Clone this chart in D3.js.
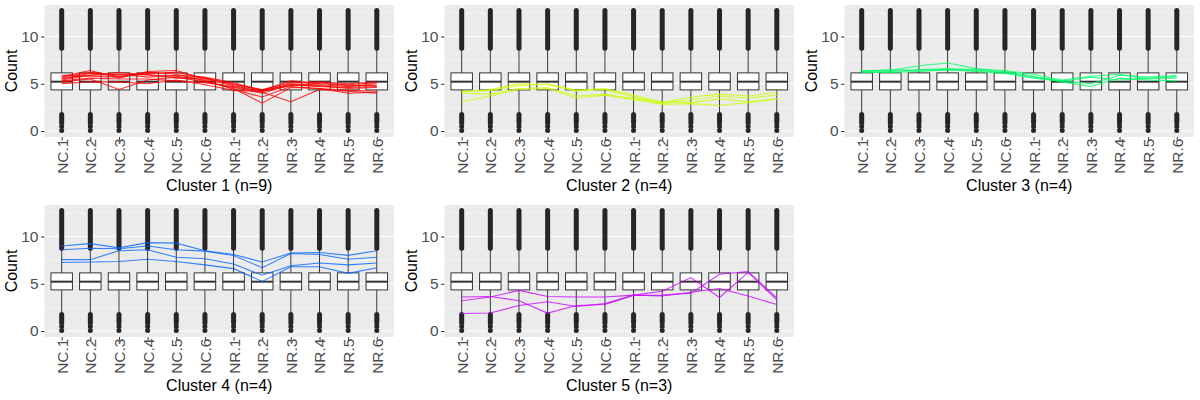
<!DOCTYPE html>
<html>
<head>
<meta charset="utf-8">
<script src="https://cdn.jsdelivr.net/npm/d3@7"></script>
<style>
  body { margin: 0; background: #fff; }
  text { font-family: "Liberation Sans", Arial, Helvetica, sans-serif; }
</style>
</head>
<body>
<svg id="chart" width="1200" height="400"></svg>
<script>
// categories and panel titles
const categories = ["NC.1", "NC.2", "NC.3", "NC.4", "NC.5", "NC.6",
                    "NR.1", "NR.2", "NR.3", "NR.4", "NR.5", "NR.6"];
const clusterTitles = ["Cluster 1 (n=9)", "Cluster 2 (n=4)", "Cluster 3 (n=4)",
                       "Cluster 4 (n=4)", "Cluster 5 (n=3)"];
const clusterColors = ["#FF0000", "#CCFF00", "#00FF66", "#0066FF", "#CC00FF"];
const yTicks = [0, 5, 10];

// boxplot of all genes (same in each column): whisker low, q1, median, q3, whisker high
const boxFive = [1.85, 4.35, 5.22, 6.15, 8.65];
const outlierHigh = [8.75, 12.75];
const outlierLow = [0.85, 1.75];
const outlierLowPoints = [0.48, 0.05];

// cluster members, one array per gene
const cluster1 = [
  [5.8, 6.4, 5.6, 6.3, 6.4, 5.5, 4.8, 4.2, 5.0, 4.9, 4.7, 5.0],
  [5.5, 6.1, 5.9, 6.1, 6.2, 5.6, 5.0, 4.3, 5.3, 5.0, 4.9, 5.1],
  [5.2, 5.5, 4.4, 5.4, 5.7, 5.2, 4.6, 4.0, 4.9, 4.8, 4.5, 4.6],
  [5.6, 5.9, 6.2, 5.9, 5.8, 5.4, 4.4, 3.6, 4.7, 4.5, 4.3, 4.2],
  [5.9, 5.8, 5.7, 6.2, 6.0, 5.3, 4.5, 2.95, 4.6, 4.5, 4.0, 4.1],
  [5.3, 5.6, 5.5, 5.5, 5.3, 5.1, 4.7, 4.1, 3.1, 4.4, 4.2, 4.0],
  [5.0, 5.2, 5.2, 5.0, 5.4, 4.9, 4.3, 4.2, 4.8, 5.1, 4.8, 4.8],
  [5.7, 6.2, 5.8, 6.0, 5.6, 5.6, 4.9, 4.4, 5.1, 5.2, 5.0, 5.2],
  [5.4, 5.9, 6.0, 5.7, 5.9, 5.7, 5.1, 4.3, 4.9, 4.7, 4.6, 4.7]
];
const cluster2 = [
  [4.2, 4.3, 4.8, 5.0, 4.3, 4.5, 3.8, 3.0, 3.6, 3.9, 3.7, 4.1],
  [4.1, 4.4, 5.0, 4.9, 4.2, 4.4, 3.6, 2.9, 3.3, 3.7, 3.5, 3.8],
  [4.0, 3.9, 4.5, 4.6, 3.7, 3.9, 3.4, 3.1, 3.0, 3.4, 3.1, 3.4],
  [3.1, 3.7, 4.4, 4.5, 3.5, 3.8, 3.3, 2.8, 2.9, 2.7, 3.0, 3.4]
];
const cluster3 = [
  [6.3, 6.4, 6.9, 7.2, 6.6, 6.3, 5.8, 5.3, 5.0, 5.9, 5.7, 5.9],
  [6.4, 6.3, 6.5, 6.6, 6.5, 6.4, 6.0, 5.4, 5.8, 6.0, 5.5, 5.8],
  [6.3, 6.5, 6.4, 6.5, 6.4, 6.2, 5.7, 5.2, 4.7, 5.6, 5.4, 5.3],
  [6.2, 6.2, 6.3, 6.5, 6.3, 6.1, 5.6, 5.3, 5.7, 5.4, 5.6, 5.6]
];
const cluster4 = [
  [9.0, 9.25, 8.8, 9.35, 9.3, 8.5, 8.1, 7.3, 8.25, 8.3, 8.0, 8.5],
  [8.6, 8.75, 8.7, 9.0, 8.6, 8.45, 8.0, 6.7, 8.2, 8.1, 7.6, 7.8],
  [7.55, 7.55, 8.5, 8.6, 7.8, 7.65, 7.1, 5.9, 6.9, 7.2, 7.0, 7.2],
  [7.25, 7.3, 7.35, 7.6, 7.35, 7.0, 6.6, 5.25, 6.8, 6.8, 6.1, 6.7]
];
const cluster5 = [
  [3.2, 3.6, 4.3, 3.65, 3.6, 3.6, 3.8, 4.2, 5.65, 3.55, 6.2, 3.3],
  [3.6, 3.65, 3.2, 1.9, 2.7, 2.8, 3.75, 3.8, 4.0, 6.0, 6.3, 3.5],
  [1.85, 1.9, 2.7, 3.1, 2.6, 2.9, 3.8, 3.7, 4.1, 4.5, 3.7, 2.8]
];
const clusterSeries = [cluster1, cluster2, cluster3, cluster4, cluster5];

const svg = d3.select("#chart");

function drawPanel(i) {
    const col = i % 3,
          row = Math.floor(i / 3),
          left = col * 400 + 44.5,
          right = col * 400 + 394,
          top = row * 200 + 5,
          bottom = row * 200 + 137;

    const x = d3.scalePoint().domain(categories).range([left, right]).padding(0.6),
          y = d3.scaleLinear().domain([-0.635, 13.335]).range([bottom, top]),
          boxW = x.step() * 0.75;

    const g = svg.append("g");

    // panel background + grid
    g.append("rect")
     .attr("x", left).attr("y", top)
     .attr("width", right - left).attr("height", bottom - top)
     .attr("fill", "#EBEBEB");

    g.selectAll(".minor")
     .data([2.5, 7.5, 12.5])
     .join("line")
     .attr("x1", left).attr("x2", right)
     .attr("y1", d => y(d)).attr("y2", d => y(d))
     .attr("stroke", "#fff").attr("stroke-width", 0.5);

    g.selectAll(".major")
     .data(yTicks)
     .join("line")
     .attr("x1", left).attr("x2", right)
     .attr("y1", d => y(d)).attr("y2", d => y(d))
     .attr("stroke", "#fff").attr("stroke-width", 1.1);

    g.selectAll(".vgrid")
     .data(categories)
     .join("line")
     .attr("x1", d => x(d)).attr("x2", d => x(d))
     .attr("y1", top).attr("y2", bottom)
     .attr("stroke", "#fff").attr("stroke-width", 1.1);

    // boxplots
    const box = g.selectAll(".box")
                 .data(categories)
                 .join("g");

    box.append("line")
       .attr("x1", d => x(d)).attr("x2", d => x(d))
       .attr("y1", y(boxFive[0])).attr("y2", y(boxFive[4]))
       .attr("stroke", "#333").attr("stroke-width", 1);

    box.append("line")
       .attr("x1", d => x(d)).attr("x2", d => x(d))
       .attr("y1", y(outlierHigh[0])).attr("y2", y(outlierHigh[1]))
       .attr("stroke", "#262626").attr("stroke-width", 5)
       .attr("stroke-linecap", "round");

    box.append("line")
       .attr("x1", d => x(d)).attr("x2", d => x(d))
       .attr("y1", y(outlierLow[0])).attr("y2", y(outlierLow[1]))
       .attr("stroke", "#262626").attr("stroke-width", 5)
       .attr("stroke-linecap", "round");

    box.selectAll("circle")
       .data(d => outlierLowPoints.map(v => [d, v]))
       .join("circle")
       .attr("cx", d => x(d[0])).attr("cy", d => y(d[1]))
       .attr("r", 2.5).attr("fill", "#262626");

    box.append("rect")
       .attr("x", d => x(d) - boxW / 2).attr("width", boxW)
       .attr("y", y(boxFive[3])).attr("height", y(boxFive[1]) - y(boxFive[3]))
       .attr("fill", "#fff").attr("stroke", "#333").attr("stroke-width", 1);

    box.append("line")
       .attr("x1", d => x(d) - boxW / 2).attr("x2", d => x(d) + boxW / 2)
       .attr("y1", y(boxFive[2])).attr("y2", y(boxFive[2]))
       .attr("stroke", "#333").attr("stroke-width", 2);

    // cluster profiles
    const line = d3.line()
                   .x((d, j) => x(categories[j]))
                   .y(d => y(d));

    g.selectAll(".profile")
     .data(clusterSeries[i])
     .join("path")
     .attr("d", line)
     .attr("fill", "none")
     .attr("stroke", clusterColors[i])
     .attr("stroke-opacity", 0.8)
     .attr("stroke-width", 1.1);

    // axes
    const yAxis = g.append("g")
                   .attr("transform", `translate(${left},0)`)
                   .call(d3.axisLeft(y).tickValues(yTicks).tickSize(3.5).tickPadding(2.5));
    const xAxis = g.append("g")
                   .attr("transform", `translate(0,${bottom})`)
                   .call(d3.axisBottom(x).tickSize(3.5).tickPadding(0));

    [yAxis, xAxis].forEach(a => {
        a.select(".domain").remove();
        a.selectAll(".tick line").attr("stroke", "#333");
        a.selectAll(".tick text")
         .attr("fill", "#4D4D4D")
         .style("font-size", "15.5px");
    });

    xAxis.selectAll(".tick text")
         .attr("transform", "rotate(-90)")
         .attr("text-anchor", "end")
         .attr("x", -1.5)
         .attr("y", 0)
         .attr("dy", "0.35em");

    g.append("text")
     .attr("x", (left + right) / 2)
     .attr("y", row * 200 + 191)
     .attr("text-anchor", "middle")
     .style("font-size", "16px")
     .attr("fill", "#000")
     .text(clusterTitles[i]);

    g.append("text")
     .attr("transform", `translate(${col * 400 + 16.5},${(top + bottom) / 2}) rotate(-90)`)
     .attr("text-anchor", "middle")
     .style("font-size", "16px")
     .attr("fill", "#000")
     .text("Count");
}

clusterSeries.forEach((_, i) => drawPanel(i));
</script>
</body>
</html>
